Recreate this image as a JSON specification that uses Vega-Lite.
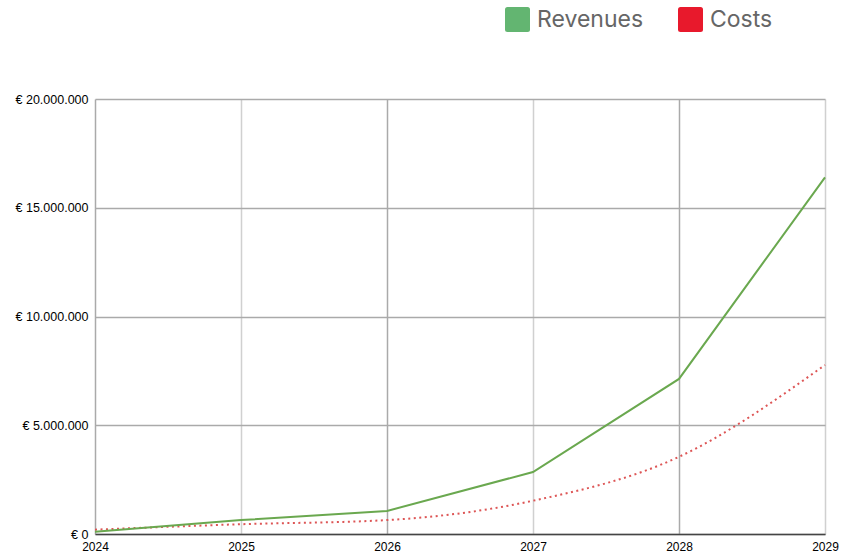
{
  "$schema": "https://vega.github.io/schema/vega-lite/v6.json",
  "width": 730,
  "height": 435,
  "autosize": {"type": "none"},
  "padding": {"left": 95, "top": 99, "right": 16, "bottom": 19},
  "background": "white",
  "data": {
    "values": [
      {"year": 2024, "series": "Revenues", "value": 100000},
      {"year": 2025, "series": "Revenues", "value": 640000},
      {"year": 2026, "series": "Revenues", "value": 1060000},
      {"year": 2027, "series": "Revenues", "value": 2850000},
      {"year": 2028, "series": "Revenues", "value": 7130000},
      {"year": 2029, "series": "Revenues", "value": 16400000},
      {"year": 2024, "series": "Costs", "value": 200000},
      {"year": 2025, "series": "Costs", "value": 450000},
      {"year": 2026, "series": "Costs", "value": 640000},
      {"year": 2027, "series": "Costs", "value": 1530000},
      {"year": 2028, "series": "Costs", "value": 3550000},
      {"year": 2029, "series": "Costs", "value": 7770000}
    ]
  },
  "config": {
    "view": {"stroke": null},
    "axis": {"labelFont": "Liberation Sans", "labelFontSize": 12, "labelColor": "#000", "ticks": false, "title": null}
  },
  "encoding": {
    "x": {
      "field": "year", "type": "quantitative",
      "scale": {"domain": [2024, 2029], "nice": false, "zero": false},
      "axis": {
        "values": [2024, 2025, 2026, 2027, 2028, 2029],
        "format": "d",
        "labelPadding": 7,
        "labelFlush": false,
        "labelOverlap": false,
        "domainColor": "#444",
        "domainWidth": 1.5,
        "gridWidth": 1.5,
        "gridColor": {"condition": {"test": "datum.value == 2024 || datum.value == 2026 || datum.value == 2028", "value": "#aaaaaa"}, "value": "#d0d0d0"}
      }
    },
    "y": {
      "field": "value", "type": "quantitative",
      "scale": {"domain": [0, 20000000], "nice": false},
      "axis": {
        "values": [0, 5000000, 10000000, 15000000, 20000000],
        "labelExpr": "'€ ' + replace(format(datum.value, ',d'), regexp(',', 'g'), '.')",
        "labelPadding": 7,
        "labelFontSize": 12.5,
        "domain": false,
        "gridColor": "#aaaaaa",
        "gridWidth": 1.5
      }
    }
  },
  "layer": [
    {
      "transform": [{"filter": "datum.series == 'Costs'"}],
      "mark": {"type": "line", "interpolate": "monotone", "strokeWidth": 2, "strokeDash": [2, 3.5], "stroke": "#dd5555"}
    },
    {
      "transform": [{"filter": "datum.series == 'Revenues'"}],
      "mark": {"type": "line", "strokeWidth": 2, "stroke": "#6aa84f"}
    },
    {
      "mark": {"type": "point", "filled": true, "opacity": 0},
      "encoding": {
        "color": {
          "field": "series", "type": "nominal",
          "scale": {"domain": ["Revenues", "Costs"], "range": ["#63b571", "#e8192c"]},
          "legend": {
            "title": null,
            "orient": "none",
            "direction": "horizontal",
            "legendX": 410,
            "legendY": -92,
            "symbolType": "M -0.8 -1 H 0.8 Q 1 -1 1 -0.8 V 0.8 Q 1 1 0.8 1 H -0.8 Q -1 1 -1 0.8 V -0.8 Q -1 -1 -0.8 -1 Z",
            "symbolSize": 625,
            "symbolOpacity": 1,
            "symbolStrokeWidth": 0,
            "labelFont": "Inter",
            "labelFontSize": 23,
            "labelColor": "#666666",
            "labelOffset": 7,
            "columnPadding": 34,
            "labelLimit": 300
          }
        }
      }
    }
  ]
}
